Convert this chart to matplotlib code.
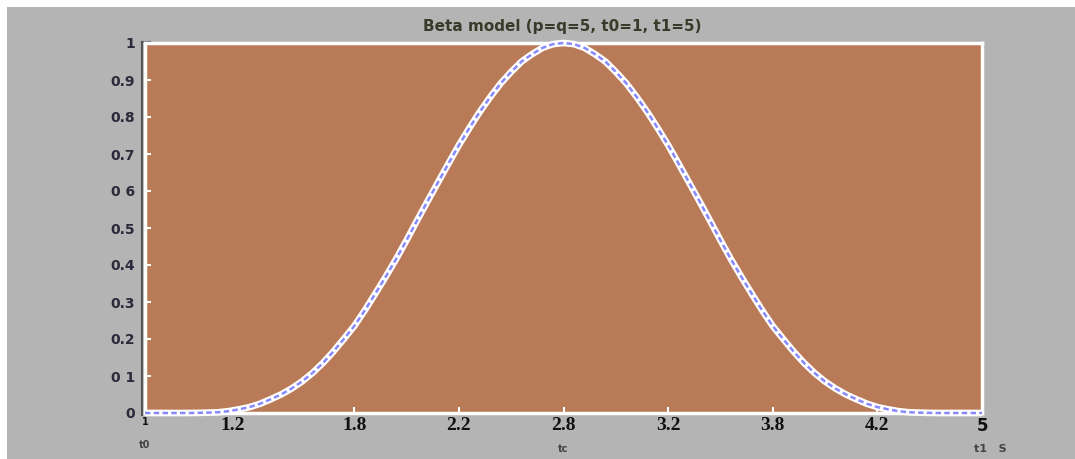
import matplotlib
matplotlib.use("Agg")
import matplotlib.pyplot as plt
from matplotlib.patches import Rectangle
from matplotlib.lines import Line2D

# values
t_vals = [1.0, 1.1, 1.2, 1.25, 1.3, 1.35, 1.4, 1.45, 1.5, 1.55, 1.6, 1.65, 1.7, 1.75,
          1.8, 1.85, 1.9, 1.95, 2.0, 2.05, 2.1, 2.15, 2.2, 2.25, 2.3, 2.35, 2.4, 2.45,
          2.5, 2.55, 2.6, 2.65, 2.7, 2.75, 2.8, 2.85, 2.9, 2.95, 3.0,
          3.05, 3.1, 3.15, 3.2, 3.25, 3.3, 3.35, 3.4, 3.45, 3.5, 3.55, 3.6, 3.65,
          3.7, 3.75, 3.8, 3.85, 3.9, 3.95, 4.0, 4.05, 4.1, 4.15, 4.2, 4.25, 4.3,
          4.35, 4.4, 4.45, 4.5, 4.55, 4.6, 4.65, 4.7, 4.75, 4.8, 4.9, 5.0]
y_vals = [0.0, 0.0, 0.0, 0.0003, 0.001, 0.002, 0.005, 0.01, 0.016, 0.025, 0.037, 0.05, 0.066, 0.085,
          0.108, 0.135, 0.166, 0.2, 0.235, 0.277, 0.322, 0.368, 0.416, 0.467, 0.52, 0.572, 0.623, 0.674,
          0.724, 0.77, 0.814, 0.854, 0.891, 0.922, 0.95, 0.97, 0.987, 0.997, 1.0,
          0.997, 0.987, 0.97, 0.95, 0.922, 0.891, 0.854, 0.814, 0.77, 0.724, 0.674, 0.623, 0.572,
          0.52, 0.467, 0.416, 0.368, 0.322, 0.277, 0.235, 0.2, 0.166, 0.135, 0.108, 0.085, 0.066,
          0.05, 0.037, 0.025, 0.016, 0.01, 0.005, 0.002, 0.001, 0.0003, 0.0, 0.0, 0.0]

xtick_pos = [1, 1.42, 2.0, 2.5, 3.0, 3.5, 4.0, 4.5, 5]
xtick_labels = ['1', '1.2', '1.8', '2.2', '2.8', '3.2', '3.8', '4.2', '5']
ytick_pos = [0, 0.1, 0.2, 0.3, 0.4, 0.5, 0.6, 0.7, 0.8, 0.9, 1]
ytick_labels = ['0', '0 1', '0.2', '0.3', '0.4', '0.5', '0 6', '0.7', '0.8', '0.9', '1']

W, H = 1075, 459
fig = plt.figure(figsize=(W / 100, H / 100), dpi=100, facecolor='#b4b4b4')
# white strips along the top and left edges
fig.patches.append(Rectangle((0, 1 - 7 / H), 1, 7 / H, transform=fig.transFigure,
                             facecolor='white', edgecolor='none'))
fig.patches.append(Rectangle((0, 0), 7 / W, 1, transform=fig.transFigure,
                             facecolor='white', edgecolor='none'))

ax = fig.add_axes([145 / W, (H - 413) / H, 837 / W, 370 / H])
ax.set_facecolor('#b97a57')
ax.set_xlim(1, 5)
ax.set_ylim(0, 1)
for s in ax.spines.values():
    s.set_color('white')
    s.set_linewidth(2.5)

# curve: white underlay with light blue dashes on top
ax.plot(t_vals, y_vals, color='white', lw=4.8, solid_capstyle='butt', clip_on=False, zorder=5)
ax.plot(t_vals, y_vals, color='#8888ff', lw=1.8, dashes=(2.2, 1.3), clip_on=False, zorder=6)

ax.set_xticks(xtick_pos)
ax.set_xticklabels(xtick_labels)
ax.set_yticks(ytick_pos)
ax.set_yticklabels(ytick_labels)
ax.tick_params(axis='both', direction='in', color='white', length=4, width=1.5)
ax.tick_params(axis='y', pad=7, labelsize=10, labelcolor='#2a2a3a')
ax.tick_params(axis='x', pad=3, labelsize=14, labelcolor='#111111')
for lab in ax.get_yticklabels():
    lab.set_fontweight('bold')
for i, lab in enumerate(ax.get_xticklabels()):
    lab.set_fontweight('bold')
    lab.set_family('Liberation Serif')
    if i == 0:
        lab.set_fontsize(7)
        lab.set_family('DejaVu Sans')
    if i == len(xtick_labels) - 1:
        lab.set_family('DejaVu Sans')
        lab.set_fontsize(12)

# dark gray axis line to the left of the plot area
ax.add_line(Line2D([-0.003, -0.003], [-0.005, 1.003], transform=ax.transAxes,
                   color='#555555', lw=1.5, clip_on=False))
ax.add_line(Line2D([-0.003, 0.006], [1.003, 1.003], transform=ax.transAxes,
                   color='#555555', lw=1.5, clip_on=False))

fig.text(562 / W, 1 - 26 / H, 'Beta model (p=q=5, t0=1, t1=5)', ha='center', va='center',
         fontsize=11, fontweight='bold', color='#3a3a2a')
ax.text(0.0, -0.087, 't0', transform=ax.transAxes, ha='center', va='center',
        fontsize=7, fontweight='bold', color='#444444')
ax.text(0.5, -0.097, 'tc', transform=ax.transAxes, ha='center', va='center',
        fontsize=7, fontweight='bold', color='#444444')
ax.text(0.99, -0.097, 't1   S', transform=ax.transAxes, ha='left', va='center',
        fontsize=8, fontweight='bold', color='#444444')

fig.savefig('out.png', dpi=100, facecolor=fig.get_facecolor())
